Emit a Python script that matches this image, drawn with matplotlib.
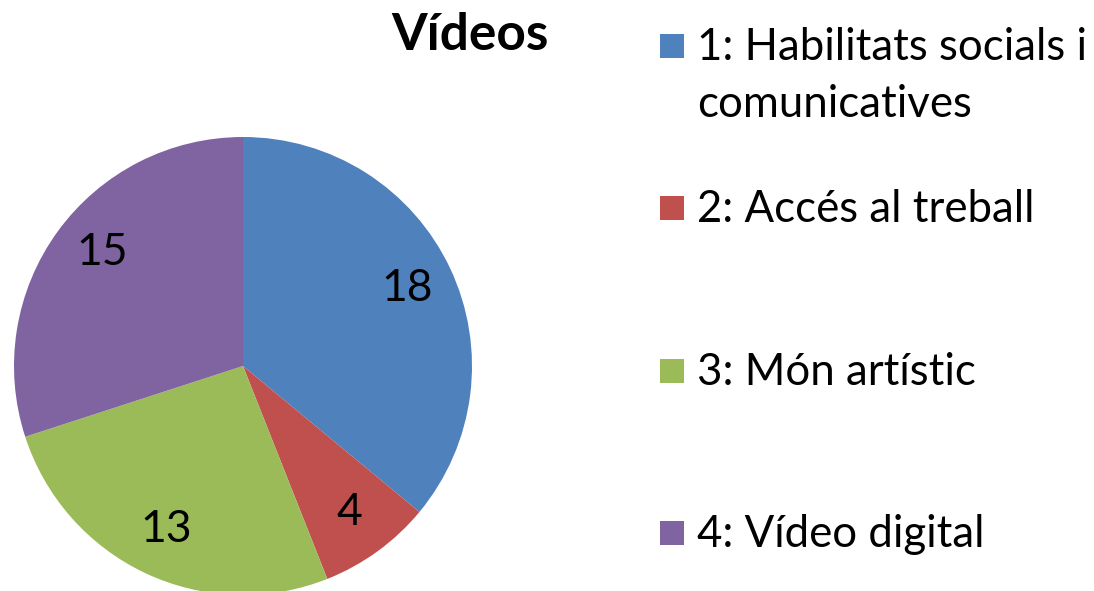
import matplotlib.pyplot as plt
from matplotlib.patches import Rectangle
import numpy as np

plt.rcParams['font.family'] = ['Lato', 'DejaVu Sans']

title = 'Vídeos'
categories = ['1: Habilitats socials i\ncomunicatives', '2: Accés al treball',
              '3: Món artístic', '4: Vídeo digital']
values = [18, 4, 13, 15]
colors = ['#4F81BD', '#C0504D', '#9BBB59', '#8064A2']

W, H = 1094, 591
fig = plt.figure(figsize=(W / 100, H / 100), dpi=100)

# pie axes: centre (243, 366) px, radius 229 px
cx, cy, r = 243, 366, 229
ax = fig.add_axes([(cx - r) / W, (H - cy - r) / H, 2 * r / W, 2 * r / H])
wedges, texts, autotexts = ax.pie(values, colors=colors, startangle=90, counterclock=False,
                                  radius=1, autopct=lambda p: '%d' % round(p * sum(values) / 100),
                                  pctdistance=0.79, textprops={'fontsize': 32, 'color': 'black'},
                                  wedgeprops={'linewidth': 0})
ax.set_xlim(-1, 1)
ax.set_ylim(-1, 1)
ax.set_aspect('auto')
ax.axis('off')

# Excel "best fit" moved the last label up
ang = np.deg2rad(141)
autotexts[3].set_position((0.79 * np.cos(ang), 0.79 * np.sin(ang)))

fig.text(470 / W, 1 - 35 / H, title, fontsize=37, fontweight='bold', ha='center', va='center')

# legend
for i, (lab, col) in enumerate(zip(categories, colors)):
    base = 60 + 162.3 * i
    fig.patches.append(Rectangle((660 / W, 1 - (base - 2) / H), 24 / W, 24 / H,
                                 transform=fig.transFigure, facecolor=col, edgecolor='none'))
    for j, line in enumerate(lab.split('\n')):
        fig.text(697 / W, 1 - (base + 57 * j) / H, line, fontsize=31.5, ha='left', va='baseline')

fig.savefig('out.png', dpi=100)
